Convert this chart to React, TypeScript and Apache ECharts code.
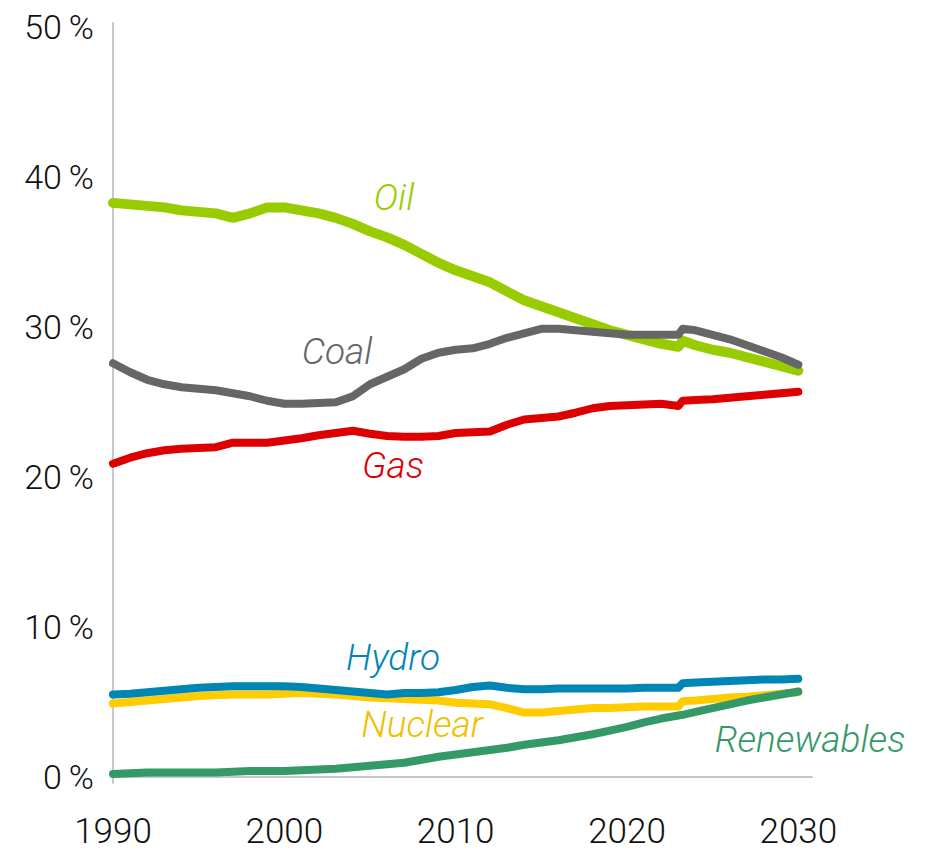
import React, { useEffect, useRef } from "react";
import * as echarts from "echarts";

const years: number[] = [
  1990, 1991, 1992, 1993, 1994, 1995, 1996, 1997, 1998, 1999,
  2000, 2001, 2002, 2003, 2004, 2005, 2006, 2007, 2008, 2009,
  2010, 2011, 2012, 2013, 2014, 2015, 2016, 2017, 2018, 2019,
  2020, 2021, 2022, 2023, 2023.25, 2024, 2025, 2026, 2027, 2028, 2029, 2030,
];

const oil = [
  38.3, 38.2, 38.1, 38.0, 37.8, 37.7, 37.6, 37.3, 37.6, 38.0,
  38.0, 37.8, 37.6, 37.3, 36.9, 36.4, 36.0, 35.5, 34.9, 34.3,
  33.8, 33.4, 33.0, 32.4, 31.8, 31.4, 31.0, 30.6, 30.2, 29.8,
  29.5, 29.2, 28.9, 28.7, 29.1, 28.8, 28.5, 28.3, 28.0, 27.7, 27.4, 27.1,
];
const coal = [
  27.6, 27.0, 26.5, 26.2, 26.0, 25.9, 25.8, 25.6, 25.4, 25.1,
  24.9, 24.9, 24.95, 25.0, 25.4, 26.2, 26.7, 27.2, 27.9, 28.3,
  28.5, 28.6, 28.9, 29.3, 29.6, 29.9, 29.9, 29.8, 29.7, 29.6,
  29.5, 29.5, 29.5, 29.5, 29.9, 29.8, 29.5, 29.2, 28.8, 28.4, 28.0, 27.5,
];
const gas = [
  20.9, 21.3, 21.6, 21.8, 21.9, 21.95, 22.0, 22.3, 22.3, 22.3,
  22.45, 22.6, 22.8, 22.95, 23.1, 22.9, 22.75, 22.7, 22.7, 22.75,
  22.95, 23.0, 23.05, 23.5, 23.85, 23.95, 24.05, 24.3, 24.6, 24.75,
  24.8, 24.85, 24.9, 24.75, 25.1, 25.15, 25.2, 25.3, 25.4, 25.5, 25.6, 25.7,
];
const hydro = [
  5.5, 5.55, 5.65, 5.75, 5.85, 5.95, 6.0, 6.05, 6.05, 6.05,
  6.05, 6.0, 5.9, 5.8, 5.7, 5.6, 5.5, 5.6, 5.6, 5.65,
  5.8, 6.0, 6.1, 5.95, 5.85, 5.85, 5.9, 5.9, 5.9, 5.9,
  5.9, 5.95, 5.95, 5.95, 6.25, 6.3, 6.35, 6.4, 6.45, 6.5, 6.5, 6.55,
];
const nuclear = [
  4.9, 5.0, 5.1, 5.2, 5.3, 5.4, 5.45, 5.5, 5.5, 5.5,
  5.55, 5.6, 5.55, 5.5, 5.4, 5.3, 5.25, 5.2, 5.15, 5.1,
  4.95, 4.9, 4.85, 4.6, 4.3, 4.3, 4.4, 4.5, 4.6, 4.6,
  4.65, 4.7, 4.7, 4.7, 5.05, 5.1, 5.2, 5.3, 5.35, 5.45, 5.55, 5.65,
];
const renewables = [
  0.2, 0.25, 0.3, 0.3, 0.3, 0.3, 0.3, 0.35, 0.4, 0.4,
  0.4, 0.45, 0.5, 0.55, 0.65, 0.75, 0.85, 0.95, 1.15, 1.35,
  1.5, 1.65, 1.8, 1.95, 2.15, 2.3, 2.45, 2.65, 2.85, 3.1,
  3.35, 3.65, 3.9, 4.1, 4.15, 4.35, 4.6, 4.85, 5.1, 5.3, 5.5, 5.7,
];

const xTicks = [1990, 2000, 2010, 2020, 2030];
const yTicks = [0, 10, 20, 30, 40, 50];

const FONT = "Roboto";

const seriesDefs = [
  { name: "Oil", values: oil, color: "#99CC00", width: 10 },
  { name: "Coal", values: coal, color: "#666666", width: 8 },
  { name: "Gas", values: gas, color: "#DD0000", width: 8 },
  { name: "Nuclear", values: nuclear, color: "#FFCC00", width: 8 },
  { name: "Renewables", values: renewables, color: "#339966", width: 8 },
  { name: "Hydro", values: hydro, color: "#0086B4", width: 8 },
];

const labelDefs = [
  { text: "Oil", x: 394, y: 197, color: "#99CC00" },
  { text: "Coal", x: 337, y: 351, color: "#666666" },
  { text: "Gas", x: 393, y: 465, color: "#DD0000" },
  { text: "Hydro", x: 393, y: 657, color: "#0086B4" },
  { text: "Nuclear", x: 422, y: 724, color: "#F0C000" },
  { text: "Renewables", x: 810, y: 739, color: "#339966" },
];

export default function App() {
  const ref = useRef<HTMLDivElement>(null);
  useEffect(() => {
    if (!ref.current) return;
    const chart = echarts.init(ref.current, null, { renderer: "svg" });
    chart.setOption({
      animation: false,
      backgroundColor: "#ffffff",
      grid: { left: 113, right: 116, top: 23, bottom: 68, containLabel: false },
      xAxis: {
        type: "value",
        min: 1990,
        max: 2030.8,
        axisLine: { show: true, lineStyle: { color: "#c8c8c8", width: 2 } },
        axisTick: { show: false },
        splitLine: { show: false },
        axisLabel: {
          customValues: xTicks,
          formatter: (v: number) => String(v),
          color: "#111",
          fontFamily: FONT,
          fontWeight: 300,
          fontSize: 35,
          margin: 31,
          showMaxLabel: true,
        },
      },
      yAxis: {
        type: "value",
        min: -0.4,
        max: 50.3,
        axisLine: { show: true, lineStyle: { color: "#c8c8c8", width: 2 } },
        axisTick: { show: false },
        splitLine: { show: false },
        axisLabel: {
          customValues: yTicks,
          formatter: (v: number) => v + "\u2009%",
          color: "#111",
          fontFamily: FONT,
          fontWeight: 300,
          fontSize: 34,
          margin: 19,
        },
      },
      series: seriesDefs.map((s) => ({
        name: s.name,
        type: "line",
        data: years.map((y, i) => [y, s.values[i]]),
        showSymbol: false,
        symbol: "none",
        lineStyle: { color: s.color, width: s.width, cap: "round", join: "round" },
        itemStyle: { color: s.color },
      })),
      graphic: labelDefs.map((l) => ({
        type: "text",
        x: l.x,
        y: l.y,
        style: {
          text: l.text,
          fill: l.color,
          font: `italic 300 37px ${FONT}`,
          textAlign: "center",
          textVerticalAlign: "middle",
        },
      })),
    });
    return () => chart.dispose();
  }, []);
  return (
    <div
      ref={ref}
      style={{ position: "absolute", left: 0, top: 0, width: 928, height: 851 }}
    />
  );
}
